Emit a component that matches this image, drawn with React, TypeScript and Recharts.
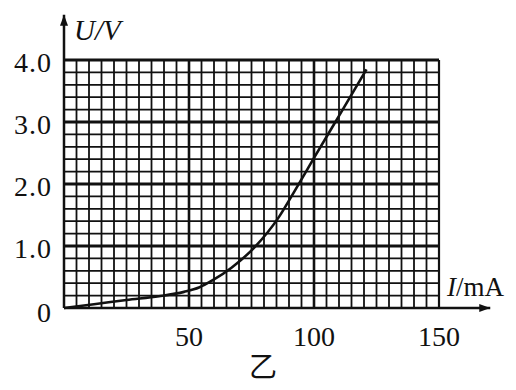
import { CartesianGrid, Line, LineChart, ReferenceLine, XAxis, YAxis } from 'recharts';

// I–U curve (I in mA, U in V)
const CURRENT = [0, 12, 25, 38, 48, 54, 60, 67, 76, 86, 92, 100, 110, 121];
const VOLTAGE = [0, 0.06, 0.13, 0.19, 0.26, 0.33, 0.46, 0.65, 0.97, 1.47, 1.87, 2.42, 3.1, 3.85];

const X_MAJOR = [50, 100, 150];
const X_LABELS = ['50', '100', '150'];
const Y_MAJOR = [0, 1, 2, 3, 4];
const Y_LABELS = ['0', '1.0', '2.0', '3.0', '4.0'];

// graph paper: 5 mA and 0.2 V squares
const X_MINOR = Array.from({ length: 31 }, (_, i) => i * 5);
const Y_MINOR = Array.from({ length: 21 }, (_, i) => +(i * 0.2).toFixed(1));

const data = CURRENT.map((c, i) => ({ i: c, u: VOLTAGE[i] }));

const FONT = '"Liberation Serif", "DejaVu Serif", serif';
const INK = '#111';

function XTick({ x, y, payload }: any) {
  const k = X_MAJOR.indexOf(payload.value);
  if (k < 0) return <g />;
  return (
    <text x={x} y={y + 30} textAnchor="middle" fontFamily={FONT} fontSize={28} fill={INK}>
      {X_LABELS[k]}
    </text>
  );
}

function YTick({ x, y, payload }: any) {
  const k = Y_MAJOR.indexOf(payload.value);
  if (k < 0) return <g />;
  return (
    <text x={x - 4} y={y + (k === 0 ? 14 : 12)} textAnchor="end" fontFamily={FONT} fontSize={28} fill={INK} letterSpacing={1}>
      {Y_LABELS[k]}
    </text>
  );
}

function Arrow({ x1, y1, x2, y2 }: any) {
  const horiz = Math.abs(x2 - x1) > Math.abs(y2 - y1);
  const head = horiz
    ? `${x2},${y2} ${x2 - 11},${y2 - 4} ${x2 - 11},${y2 + 4}`
    : `${x2},${y2} ${x2 - 4},${y2 + 11} ${x2 + 4},${y2 + 11}`;
  return (
    <g>
      <line x1={x1} y1={y1} x2={x2} y2={y2} stroke={INK} strokeWidth={2.5} />
      <polygon points={head} fill={INK} />
    </g>
  );
}

export default function App() {
  return (
    <div style={{ position: 'absolute', left: 0, top: 0, width: 516, height: 390, background: '#fff', overflow: 'hidden' }}>
      <LineChart width={516} height={390} data={data} margin={{ top: 60, right: 77, bottom: 52, left: 4 }}>
        <CartesianGrid stroke={INK} strokeWidth={1.8} />
        <XAxis
          dataKey="i"
          type="number"
          domain={[0, 150]}
          ticks={X_MINOR}
          tick={<XTick />}
          tickLine={false}
          axisLine={false}
          height={30}
          interval={0}
        />
        <YAxis
          type="number"
          domain={[0, 4]}
          ticks={Y_MINOR}
          tick={<YTick />}
          tickLine={false}
          axisLine={false}
          width={60}
          interval={0}
        />
        {X_MAJOR.slice(0, 2).map((v) => (
          <ReferenceLine key={'x' + v} x={v} stroke={INK} strokeWidth={2.6} />
        ))}
        {Y_MAJOR.slice(1).map((v) => (
          <ReferenceLine key={'y' + v} y={v} stroke={INK} strokeWidth={2.8} />
        ))}
        <ReferenceLine x={150} stroke={INK} strokeWidth={2.2} />
        <ReferenceLine
          segment={[{ x: 0, y: 0 }, { x: 170.5, y: 0 }]}
          ifOverflow="visible"
          shape={<Arrow />}
        />
        <ReferenceLine
          segment={[{ x: 0, y: 0 }, { x: 0, y: 4.73 }]}
          ifOverflow="visible"
          shape={<Arrow />}
        />
        <Line
          type="monotone"
          dataKey="u"
          stroke={INK}
          strokeWidth={2.6}
          dot={false}
          isAnimationActive={false}
        />
      </LineChart>
      <div style={{ position: 'absolute', left: 74, top: 16, fontFamily: FONT, fontSize: 29, fontStyle: 'italic', color: INK, lineHeight: 1 }}>
        U/V
      </div>
      <div style={{ position: 'absolute', left: 447, top: 274, fontFamily: FONT, fontSize: 27, color: INK, lineHeight: 1 }}>
        <i>I</i>/mA
      </div>
      <div style={{ position: 'absolute', left: 249, top: 350, fontFamily: '"Noto Sans CJK SC", sans-serif', fontSize: 28, color: INK, lineHeight: 1.1 }}>
        乙
      </div>
    </div>
  );
}
